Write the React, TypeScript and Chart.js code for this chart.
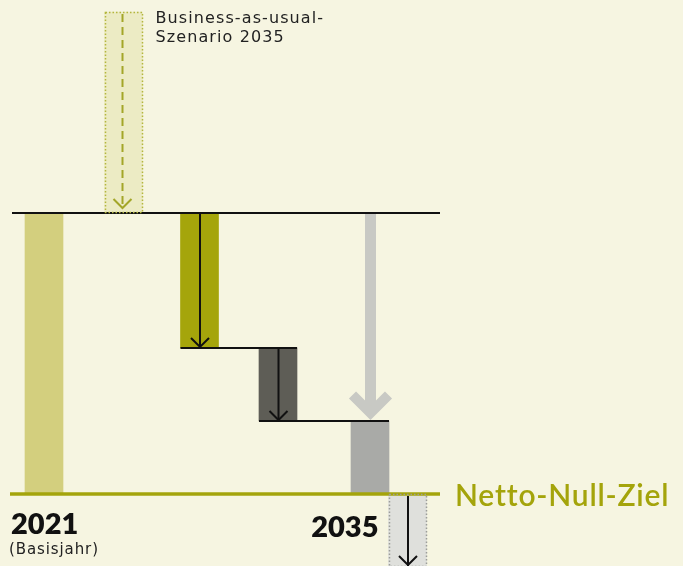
import React, { useEffect, useRef } from 'react';
import { Chart, registerables } from 'chart.js';
Chart.register(...registerables);

// --- data ---
const categories = ['2021', 'Business-as-usual 2035', 'Reduktion A', 'Reduktion B', '2035', 'Kompensation'];
const barStart = [0, 100, 100, 52, 0, 0];
const barEnd = [100, 171.5, 52, 26, 26, -26];
const slotX = [44, 123.5, 199.5, 278, 370, 407.5];
const baseLevel = 100;
const stepLevels = [52, 26];
const targetLevel = 0;
const labelYears = ['2021', '2035'];

const BG = '#f6f5e1';
const OLIVE = '#a4a40b';
const barColors = ['#d3cf7e', '#ecebc4', '#a5a50b', '#5e5d56', '#a9aaa7', '#dfe0dc'];

const HALF = 19;

const decoPlugin = {
  id: 'deco',
  beforeDraw(chart: any) {
    const { ctx, width, height } = chart;
    ctx.save();
    ctx.fillStyle = BG;
    ctx.fillRect(0, 0, width, height);
    ctx.restore();
  },
  afterDatasetsDraw(chart: any) {
    const { ctx } = chart;
    const xs = chart.scales.x;
    const ys = chart.scales.y;
    const X = (v: number) => xs.getPixelForValue(v);
    const Y = (v: number) => ys.getPixelForValue(v);

    const chevron = (x: number, yTip: number, arm: number, color: string, lw: number) => {
      ctx.beginPath();
      ctx.moveTo(x - arm, yTip - arm);
      ctx.lineTo(x, yTip);
      ctx.lineTo(x + arm, yTip - arm);
      ctx.strokeStyle = color;
      ctx.lineWidth = lw;
      ctx.stroke();
    };
    const dottedRect = (i: number, color: string) => {
      const l = Math.round(X(slotX[i] - HALF)) + 0.5;
      const r = Math.round(X(slotX[i] + HALF)) - 0.5;
      const t = Math.round(Y(Math.max(barStart[i], barEnd[i]))) + 0.5;
      const b = Math.round(Y(Math.min(barStart[i], barEnd[i]))) - 0.5;
      ctx.save();
      ctx.setLineDash([1.5, 2]);
      ctx.strokeStyle = color;
      ctx.lineWidth = 1.5;
      ctx.strokeRect(l, t, r - l, b - t);
      ctx.restore();
    };

    ctx.save();
    // BAU dotted box + dashed arrow
    dottedRect(1, '#b4b63e');
    {
      const x = X(slotX[1]) - 1;
      ctx.save();
      ctx.setLineDash([8, 5]);
      ctx.strokeStyle = '#a3a628';
      ctx.lineWidth = 2;
      ctx.beginPath();
      ctx.moveTo(x, Y(barEnd[1]) + 2);
      ctx.lineTo(x, Y(barStart[1]) - 6);
      ctx.stroke();
      ctx.restore();
      chevron(x, Y(barStart[1]) - 5, 9, '#a3a628', 2);
    }
    // black arrows in reduction bars
    for (const i of [2, 3]) {
      const x = X(slotX[i]) + 0.5;
      ctx.beginPath();
      ctx.moveTo(x, Y(barStart[i]));
      ctx.lineTo(x, Y(barEnd[i]) - 1);
      ctx.strokeStyle = '#111';
      ctx.lineWidth = 2;
      ctx.stroke();
      chevron(x, Y(barEnd[i]) - 1, 9, '#111', 2);
    }
    // big grey arrow
    {
      const x = X(slotX[4]) + 0.5;
      ctx.beginPath();
      ctx.moveTo(x, Y(baseLevel) + 1);
      ctx.lineTo(x, Y(stepLevels[1]) - 10);
      ctx.strokeStyle = '#c8c9c4';
      ctx.lineWidth = 11;
      ctx.stroke();
      ctx.lineJoin = 'miter';
      chevron(x, Y(stepLevels[1]) - 8, 18, '#c8c9c4', 10);
    }
    // compensation dotted box + arrow
    dottedRect(5, '#9c9d99');
    {
      const x = X(slotX[5]) + 0.5;
      ctx.beginPath();
      ctx.moveTo(x, Y(targetLevel) + 2);
      ctx.lineTo(x, chart.height);
      ctx.strokeStyle = '#111';
      ctx.lineWidth = 2;
      ctx.stroke();
      chevron(x, chart.height - 1, 9, '#111', 2);
    }
    ctx.restore();
  },
  afterDraw(chart: any) {
    const { ctx } = chart;
    const xs = chart.scales.x;
    const ys = chart.scales.y;
    const X = (v: number) => xs.getPixelForValue(v);
    const Y = (v: number) => ys.getPixelForValue(v);
    ctx.save();
    ctx.textBaseline = 'alphabetic';
    // BAU label
    ctx.fillStyle = '#222';
    ctx.font = '400 16px "DejaVu Sans"';
    (ctx as any).letterSpacing = '1.1px';
    ctx.textAlign = 'left';
    ctx.fillText('Business-as-usual-', X(slotX[1] + HALF) + 13, 23);
    ctx.fillText('Szenario 2035', X(slotX[1] + HALF) + 13, 42);
    // Netto-Null
    ctx.fillStyle = OLIVE;
    ctx.font = '600 30px Lato';
    (ctx as any).letterSpacing = '0.8px';
    ctx.fillText('Netto-Null-Ziel', 455, Y(targetLevel) + 12);
    // years
    ctx.fillStyle = '#111';
    ctx.font = '800 29px Lato';
    (ctx as any).letterSpacing = '0px';
    ctx.fillText(labelYears[0], 11, Y(targetLevel) + 40);
    ctx.textAlign = 'right';
    ctx.fillText(labelYears[1], X(slotX[5] - HALF) - 10, Y(targetLevel) + 43);
    ctx.textAlign = 'left';
    ctx.font = '400 15px "DejaVu Sans"';
    (ctx as any).letterSpacing = '0.9px';
    ctx.fillStyle = '#222';
    ctx.fillText('(Basisjahr)', 9, Y(targetLevel) + 60);
    ctx.restore();
  },
};

export default function App() {
  const ref = useRef<HTMLCanvasElement>(null);
  useEffect(() => {
    document.body.style.margin = '0';
    document.body.style.background = BG;
    const canvas = ref.current!;
    const bars = categories.map((c, i) => ({ x: slotX[i], y: [barStart[i], barEnd[i]] }));
    const line = (x0: number, x1: number, y: number) => [{ x: x0, y }, { x: x1, y }];
    const chart = new Chart(canvas, {
      type: 'bar',
      data: {
        datasets: [
          {
            type: 'bar',
            label: 'Emissionen',
            data: bars as any,
            backgroundColor: barColors,
            barThickness: 38,
            borderWidth: 0,
            order: 2,
          } as any,
          {
            type: 'line',
            label: 'Basis',
            data: line(12, 440, baseLevel) as any,
            borderColor: '#111',
            borderWidth: 2,
            pointRadius: 0,
            order: 1,
          },
          {
            type: 'line',
            label: 'Stufe 1',
            data: line(slotX[2] - HALF, slotX[3] + HALF, stepLevels[0]) as any,
            borderColor: '#111',
            borderWidth: 2,
            pointRadius: 0,
            order: 1,
          },
          {
            type: 'line',
            label: 'Stufe 2',
            data: line(slotX[3] - HALF, slotX[4] + HALF, stepLevels[1]) as any,
            borderColor: '#111',
            borderWidth: 2,
            pointRadius: 0,
            order: 1,
          },
          {
            type: 'line',
            label: 'Netto-Null',
            data: line(10, 440, targetLevel) as any,
            borderColor: OLIVE,
            borderWidth: 3.5,
            pointRadius: 0,
            order: 0,
          },
        ],
      },
      options: {
        animation: false,
        responsive: false,
        layout: { padding: 0 },
        plugins: { legend: { display: false }, tooltip: { enabled: false } },
        scales: {
          x: { type: 'linear', min: 0, max: 683, display: false, offset: false },
          y: { type: 'linear', min: -25.6, max: 175.8, display: false },
        },
      },
      plugins: [decoPlugin],
    });
    return () => chart.destroy();
  }, []);
  return <canvas ref={ref} width={683} height={566} style={{ display: 'block' }} />;
}
